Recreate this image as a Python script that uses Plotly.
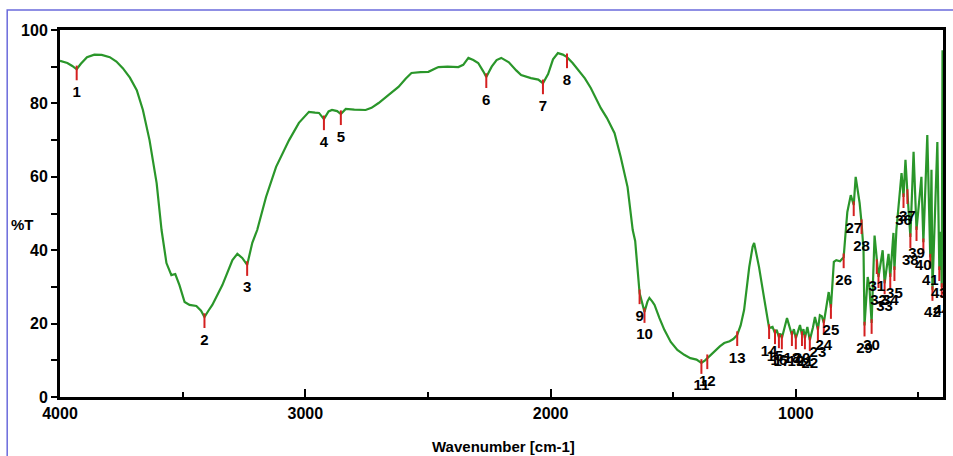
import plotly.graph_objects as go

# Spectrum trace (wavenumber cm-1, %T)
wavenumber = [4000, 3970, 3950, 3932, 3915, 3890, 3860, 3830, 3797, 3770, 3744, 3715, 3687, 3662,
              3635, 3606, 3586, 3566, 3546, 3530, 3513, 3492, 3472, 3444, 3425, 3411, 3395, 3379,
              3338, 3297, 3277, 3257, 3237, 3216, 3196, 3160, 3119, 3066, 3026, 2985, 2960, 2944,
              2924, 2905, 2891, 2870, 2855, 2835, 2800, 2754, 2730, 2701, 2660, 2620, 2590, 2567,
              2530, 2498, 2470, 2457, 2420, 2376, 2356, 2335, 2315, 2295, 2275, 2262, 2240, 2220,
              2201, 2170, 2140, 2120, 2080, 2050, 2031, 2010, 1990, 1970, 1950, 1933, 1910, 1889,
              1860, 1836, 1815, 1795, 1770, 1739, 1714, 1686, 1665, 1655, 1637, 1627, 1617, 1605,
              1597, 1585, 1576, 1556, 1536, 1510, 1483, 1455, 1430, 1405, 1385, 1370, 1361, 1330,
              1310, 1292, 1270, 1255, 1239, 1225, 1211, 1190, 1176, 1170, 1160, 1150, 1130, 1109,
              1095, 1085, 1078, 1069, 1063, 1057, 1036, 1016, 1008, 1000, 983, 975, 969, 963,
              953, 943, 930, 922, 910, 902, 894, 886, 866, 857, 845, 835, 820, 805,
              798, 790, 776, 764, 756, 740, 732, 724, 720, 707, 700, 691, 679, 670,
              663, 646, 638, 622, 615, 602, 598, 590, 577, 569, 561, 553, 545, 538,
              533, 520, 508, 488, 480, 464, 452, 447, 443, 423, 415, 410, 405, 402]
transmittance = [91.6, 91.0, 90.2, 89.3, 90.8, 92.6, 93.3, 93.2, 92.6, 91.4, 89.6, 87.0, 83.6, 78.2,
                 70.0, 58.3, 45.5, 36.5, 33.2, 33.5, 30.5, 25.9, 25.1, 24.8, 23.5, 21.8, 23.5, 25.1,
                 30.5, 37.3, 39.0, 37.9, 36.0, 42.0, 45.5, 54.5, 62.7, 70.0, 74.7, 77.7, 77.5, 77.4,
                 75.7, 77.8, 78.2, 77.9, 77.1, 78.5, 78.3, 78.2, 78.8, 80.1, 82.3, 84.5, 86.8, 88.3,
                 88.5, 88.6, 89.5, 89.9, 90.0, 89.9, 90.5, 92.4, 91.8, 91.0, 88.8, 87.2, 90.0, 91.8,
                 92.4, 91.2, 89.0, 87.7, 86.9, 86.5, 85.5, 88.0, 92.0, 93.7, 93.3, 92.6, 91.0, 89.1,
                 86.8, 84.2, 81.5, 78.7, 76.0, 71.9, 65.4, 57.2, 45.5, 42.5, 28.3, 25.5, 23.2, 26.0,
                 27.0, 26.0, 25.1, 21.5, 18.3, 15.0, 12.8, 11.5, 10.6, 10.2, 9.3, 10.0, 10.6, 12.5,
                 13.8, 14.7, 15.2, 15.8, 16.9, 19.5, 23.7, 35.4, 41.0, 42.0, 39.0, 35.4, 27.2, 18.8,
                 19.1, 17.4, 18.3, 16.3, 17.3, 16.0, 21.5, 16.9, 18.5, 16.0, 19.6, 16.9, 18.5, 16.0,
                 19.1, 15.5, 19.0, 21.8, 18.3, 22.3, 22.0, 20.2, 28.6, 24.3, 36.8, 37.3, 37.0, 38.1,
                 44.0, 50.4, 55.0, 52.3, 60.0, 52.9, 47.4, 40.0, 19.5, 32.7, 30.0, 20.2, 44.0, 36.5,
                 32.7, 40.0, 31.0, 39.0, 32.7, 44.7, 34.6, 45.5, 54.5, 61.0, 54.5, 64.6, 55.6, 50.0,
                 43.6, 66.8, 45.5, 60.0, 42.2, 71.4, 38.0, 61.9, 29.2, 69.5, 34.6, 45.0, 30.0, 94.5]

# Peak picks
peak_labels = [str(i) for i in range(1, 45)]
peak_wn = [3932, 3411, 3237, 2924, 2855, 2262, 2031, 1933, 1637, 1617, 1385, 1361, 1239, 1109,
           1085, 1069, 1057, 1016, 1000, 975, 963, 943, 910, 886, 857, 805, 764, 732,
           720, 691, 670, 663, 638, 615, 598, 561, 545, 533, 508, 480, 452, 443, 415, 405]
peak_t = [89.3, 21.8, 36.0, 75.7, 77.1, 87.2, 85.5, 92.6, 28.3, 23.2, 9.3, 10.6, 16.9, 18.8,
          17.4, 16.3, 16.0, 16.9, 16.0, 16.9, 16.0, 15.5, 18.3, 20.2, 24.3, 38.1, 52.3, 47.4,
          19.5, 20.2, 36.5, 32.7, 31.0, 32.7, 34.6, 54.5, 55.6, 43.6, 45.5, 42.2, 38.0, 29.2,
          34.6, 30.0]

x_ticks = [4000, 3000, 2000, 1000, 400]
y_ticks = [0, 20, 40, 60, 80, 100]

FONT = "Liberation Sans, Arial, sans-serif"

mark_x, mark_y = [], []
for w, t in zip(peak_wn, peak_t):
    mark_x += [w, w, None]
    mark_y += [t + 1.0, t - 3.0, None]

fig = go.Figure()
fig.add_trace(go.Scatter(x=wavenumber, y=transmittance, mode="lines",
                         line=dict(color="#2a962a", width=2.2), hoverinfo="skip"))
fig.add_trace(go.Scatter(x=mark_x, y=mark_y, mode="lines",
                         line=dict(color="#d42020", width=2), hoverinfo="skip"))
fig.add_trace(go.Scatter(x=peak_wn, y=[t - 6.5 for t in peak_t], mode="text",
                         text=peak_labels, textposition="middle center",
                         textfont=dict(family=FONT, size=15, color="black", weight="bold"),
                         hoverinfo="skip"))

fig.update_layout(
    width=953, height=456,
    margin=dict(l=60, r=7, t=30, b=59),
    paper_bgcolor="white", plot_bgcolor="white",
    showlegend=False,
    xaxis=dict(range=[4000, 400], tickvals=x_ticks, ticktext=[str(v) for v in x_ticks],
               ticks="inside", ticklen=8, tickwidth=2, tickcolor="black",
               minor=dict(tickvals=[3500, 2500, 1500, 500], ticks="inside", ticklen=5,
                          tickwidth=2, tickcolor="black"),
               showline=True, linecolor="black", linewidth=3, mirror=True,
               showgrid=False, zeroline=False,
               tickfont=dict(family=FONT, size=16, color="black", weight="bold")),
    yaxis=dict(range=[0, 100], tickvals=y_ticks, ticks="outside", ticklen=6, tickwidth=2,
               tickcolor="black",
               minor=dict(tickvals=[10, 30, 50, 70, 90], ticks="outside", ticklen=6,
                          tickwidth=2, tickcolor="black"),
               showline=True, linecolor="black", linewidth=3, mirror=True,
               showgrid=False, zeroline=False,
               tickfont=dict(family=FONT, size=16, color="black", weight="bold")),
    annotations=[
        dict(text="%T", xref="paper", yref="paper", x=-0.043, y=0.47, showarrow=False,
             xanchor="center", yanchor="middle",
             font=dict(family=FONT, size=15, color="black", weight="bold")),
        dict(text="Wavenumber [cm-1]", xref="paper", yref="paper", x=0.502, y=-0.136,
             showarrow=False, xanchor="center", yanchor="middle",
             font=dict(family=FONT, size=15, color="black", weight="bold")),
    ],
    shapes=[
        dict(type="rect", xref="paper", yref="paper", x0=-0.0598, y0=-0.3, x1=1.2, y1=1.0545,
             line=dict(color="#6b6bdc", width=1.5), layer="below"),
    ],
)

fig.write_html("out.html", config={"displayModeBar": False},
               post_script="document.body.style.margin='0';")
